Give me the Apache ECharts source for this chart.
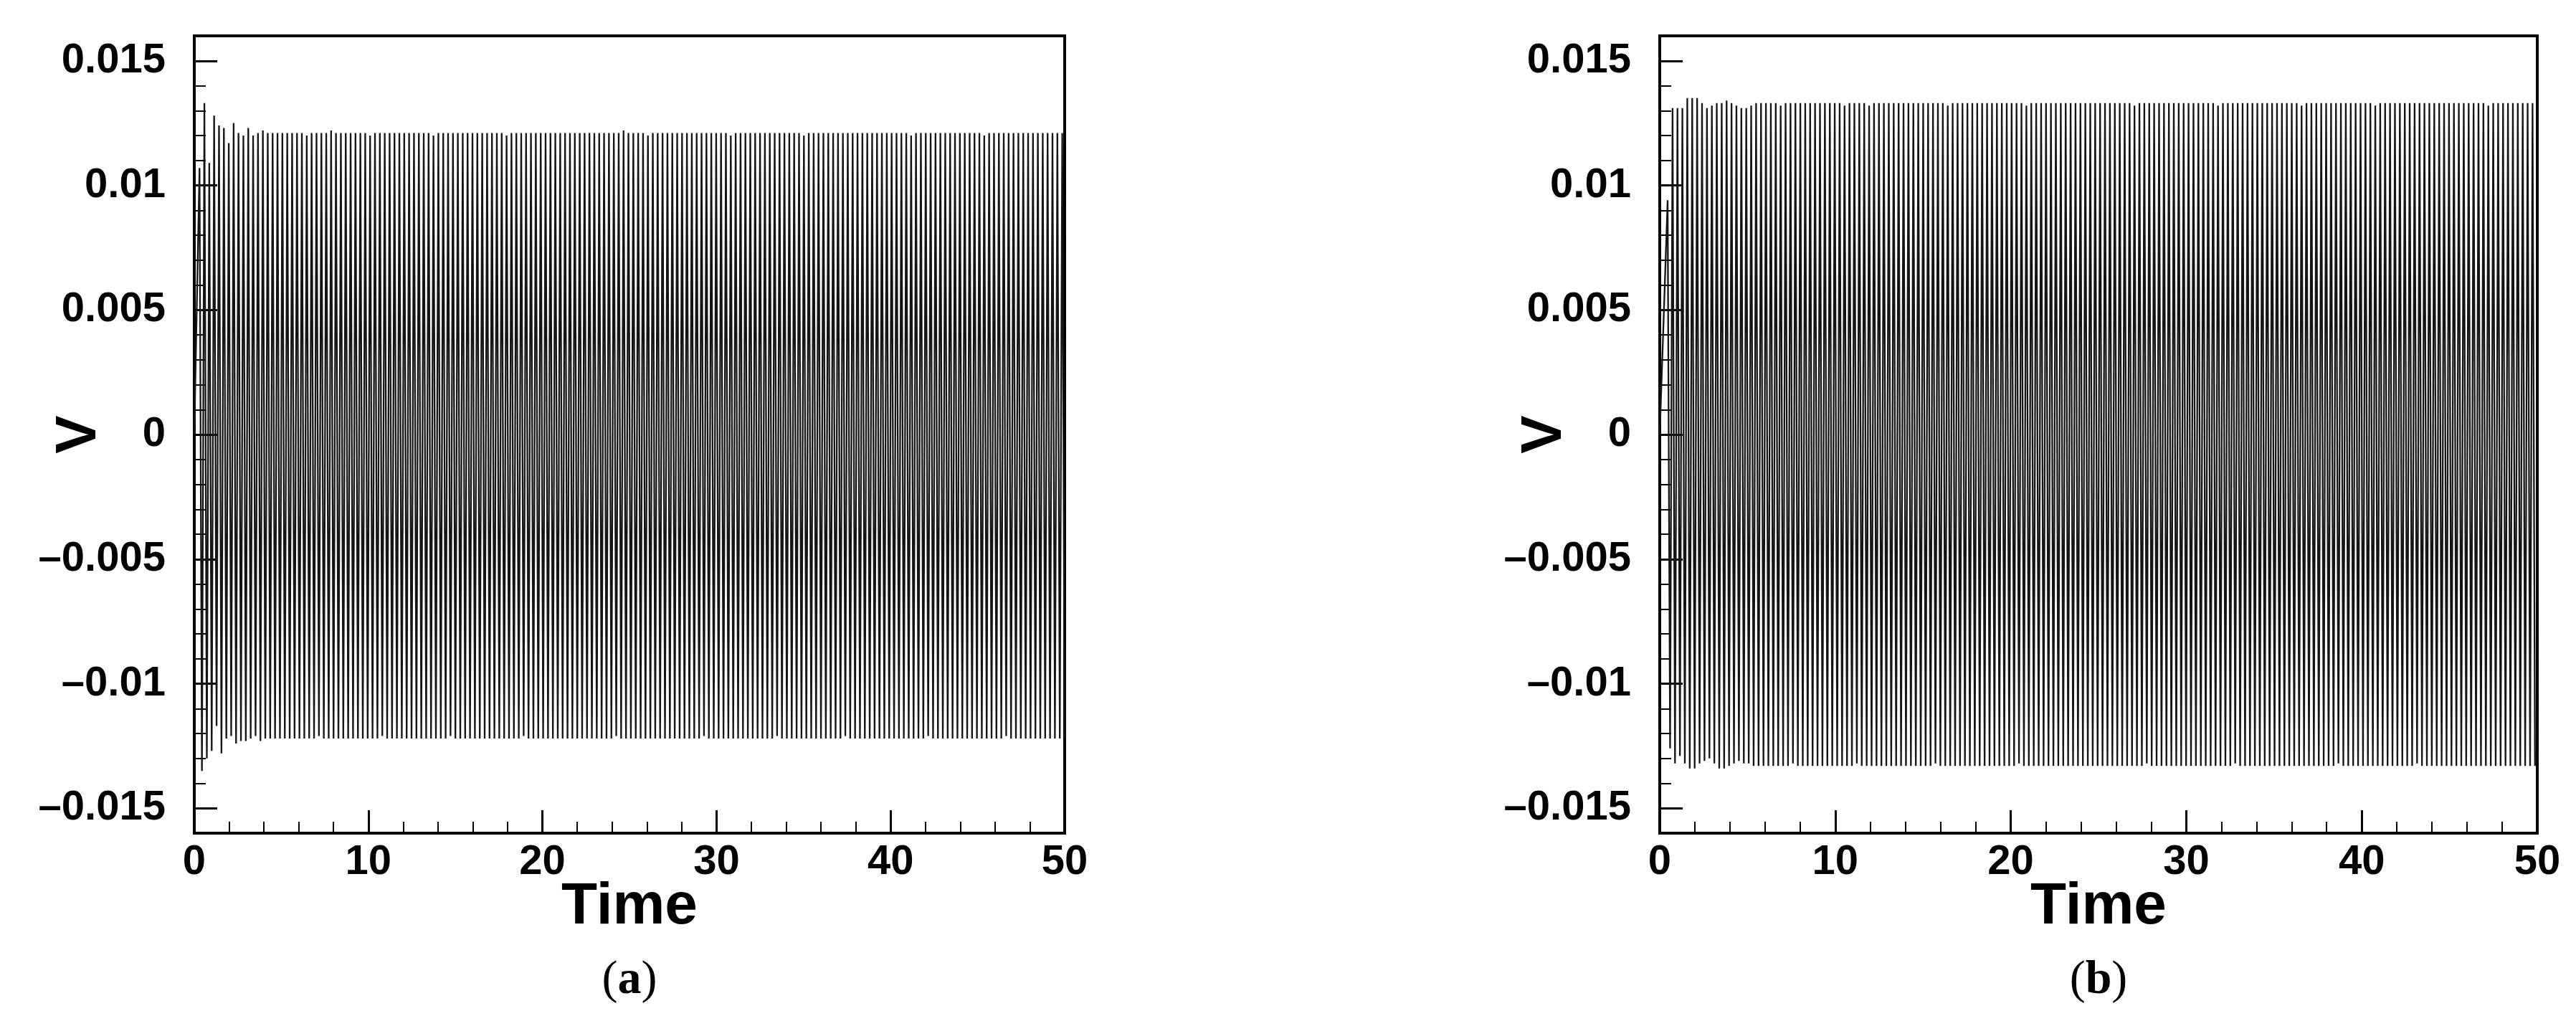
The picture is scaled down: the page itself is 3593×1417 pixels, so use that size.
<!DOCTYPE html>
<html>
<head>
<meta charset="utf-8">
<script src="https://cdn.jsdelivr.net/npm/echarts@6/dist/echarts.min.js"></script>
<style>
html,body{margin:0;padding:0;background:#fff;}
#chart{width:3593px;height:1417px;}
</style>
</head>
<body>
<div id="chart"></div>
<script>
// ---- data ----
// time of first maximum and half period (time between a maximum and the next minimum)
const firstTimeA = 0.30;
const halfPeriodA = 0.14;
const firstTimeB = 0.45;
const halfPeriodB = 0.14;

// panel (a): successive maxima / minima of V (one per cycle)
const peaksA = [
0.0107,0.0133,0.0109,0.0128,0.0124,0.0123,0.0117,0.0125,0.0121,0.0120,
0.0123,0.0120,0.0121,0.0122,0.0121,0.0121,0.0121,0.0121,0.0121,0.0121,
0.0121,0.0121,0.0120,0.0121,0.0121,0.0121,0.0121,0.0122,0.0121,0.0121,
0.0121,0.0121,0.0121,0.0121,0.0121,0.0120,0.0121,0.0121,0.0121,0.0121,
0.0121,0.0121,0.0121,0.0121,0.0121,0.0121,0.0121,0.0121,0.0120,0.0121,
0.0121,0.0121,0.0121,0.0121,0.0121,0.0121,0.0121,0.0121,0.0121,0.0121,
0.0121,0.0121,0.0121,0.0120,0.0121,0.0121,0.0121,0.0121,0.0121,0.0121,
0.0121,0.0121,0.0121,0.0121,0.0121,0.0121,0.0121,0.0121,0.0121,0.0121,
0.0121,0.0121,0.0121,0.0121,0.0121,0.0121,0.0121,0.0122,0.0121,0.0121,
0.0121,0.0121,0.0120,0.0121,0.0121,0.0121,0.0121,0.0121,0.0121,0.0121,
0.0121,0.0121,0.0121,0.0121,0.0121,0.0121,0.0121,0.0121,0.0121,0.0120,
0.0121,0.0121,0.0121,0.0121,0.0121,0.0121,0.0121,0.0121,0.0121,0.0121,
0.0121,0.0121,0.0121,0.0121,0.0120,0.0121,0.0121,0.0121,0.0121,0.0121,
0.0121,0.0121,0.0121,0.0121,0.0121,0.0121,0.0121,0.0121,0.0121,0.0121,
0.0121,0.0121,0.0121,0.0121,0.0121,0.0121,0.0120,0.0121,0.0121,0.0121,
0.0121,0.0121,0.0121,0.0121,0.0121,0.0121,0.0121,0.0121,0.0121,0.0121,
0.0121,0.0120,0.0121,0.0121,0.0121,0.0121,0.0121,0.0121,0.0121,0.0121,
0.0121,0.0121,0.0121,0.0121,0.0121,0.0121,0.0121,0.0121
];
const troughsA = [
-0.0135,-0.0130,-0.0127,-0.0117,-0.0128,-0.0122,-0.0121,-0.0124,-0.0123,-0.0123,
-0.0122,-0.0121,-0.0123,-0.0122,-0.0122,-0.0122,-0.0122,-0.0122,-0.0122,-0.0122,
-0.0122,-0.0122,-0.0122,-0.0122,-0.0121,-0.0122,-0.0122,-0.0122,-0.0122,-0.0122,
-0.0122,-0.0122,-0.0122,-0.0122,-0.0122,-0.0122,-0.0122,-0.0121,-0.0122,-0.0122,
-0.0122,-0.0122,-0.0122,-0.0122,-0.0122,-0.0122,-0.0122,-0.0122,-0.0122,-0.0122,
-0.0122,-0.0121,-0.0122,-0.0122,-0.0122,-0.0122,-0.0122,-0.0122,-0.0122,-0.0122,
-0.0122,-0.0122,-0.0122,-0.0122,-0.0122,-0.0122,-0.0121,-0.0122,-0.0122,-0.0122,
-0.0122,-0.0122,-0.0122,-0.0122,-0.0122,-0.0122,-0.0122,-0.0122,-0.0122,-0.0122,
-0.0122,-0.0122,-0.0122,-0.0122,-0.0122,-0.0121,-0.0122,-0.0122,-0.0122,-0.0122,
-0.0122,-0.0122,-0.0122,-0.0122,-0.0122,-0.0122,-0.0122,-0.0122,-0.0122,-0.0122,
-0.0122,-0.0122,-0.0122,-0.0121,-0.0122,-0.0122,-0.0122,-0.0122,-0.0122,-0.0122,
-0.0122,-0.0122,-0.0122,-0.0122,-0.0122,-0.0122,-0.0122,-0.0122,-0.0121,-0.0122,
-0.0122,-0.0122,-0.0122,-0.0122,-0.0122,-0.0122,-0.0122,-0.0122,-0.0122,-0.0122,
-0.0122,-0.0122,-0.0121,-0.0122,-0.0122,-0.0122,-0.0122,-0.0122,-0.0122,-0.0122,
-0.0122,-0.0122,-0.0122,-0.0122,-0.0122,-0.0122,-0.0122,-0.0122,-0.0122,-0.0121,
-0.0122,-0.0122,-0.0122,-0.0122,-0.0122,-0.0122,-0.0122,-0.0122,-0.0122,-0.0122,
-0.0122,-0.0122,-0.0122,-0.0122,-0.0122,-0.0121,-0.0122,-0.0122,-0.0122,-0.0122,
-0.0122,-0.0122,-0.0122,-0.0122,-0.0122,-0.0122,-0.0122,-0.0122
];

// panel (b): successive maxima / minima of V (one per cycle)
const peaksB = [
0.0094,0.0131,0.0131,0.0131,0.0135,0.0135,0.0135,0.0133,0.0131,0.0132,
0.0133,0.0133,0.0134,0.0133,0.0132,0.0131,0.0131,0.0132,0.0133,0.0133,
0.0133,0.0133,0.0133,0.0132,0.0133,0.0133,0.0133,0.0133,0.0133,0.0133,
0.0133,0.0133,0.0133,0.0133,0.0133,0.0133,0.0132,0.0133,0.0133,0.0133,
0.0133,0.0132,0.0133,0.0133,0.0133,0.0133,0.0133,0.0133,0.0133,0.0133,
0.0133,0.0133,0.0133,0.0133,0.0133,0.0133,0.0133,0.0132,0.0133,0.0133,
0.0133,0.0133,0.0133,0.0133,0.0133,0.0133,0.0133,0.0133,0.0133,0.0133,
0.0133,0.0133,0.0133,0.0132,0.0133,0.0133,0.0133,0.0133,0.0133,0.0133,
0.0133,0.0133,0.0133,0.0133,0.0133,0.0133,0.0133,0.0133,0.0133,0.0133,
0.0133,0.0133,0.0133,0.0133,0.0133,0.0132,0.0133,0.0133,0.0133,0.0133,
0.0133,0.0133,0.0133,0.0133,0.0133,0.0133,0.0133,0.0133,0.0133,0.0133,
0.0133,0.0133,0.0132,0.0133,0.0133,0.0133,0.0133,0.0133,0.0133,0.0133,
0.0133,0.0133,0.0133,0.0133,0.0133,0.0133,0.0133,0.0133,0.0133,0.0132,
0.0133,0.0133,0.0133,0.0133,0.0133,0.0133,0.0133,0.0133,0.0133,0.0133,
0.0133,0.0133,0.0133,0.0133,0.0132,0.0133,0.0133,0.0133,0.0133,0.0133,
0.0133,0.0133,0.0133,0.0133,0.0133,0.0133,0.0133,0.0133,0.0133,0.0133,
0.0133,0.0133,0.0133,0.0133,0.0133,0.0133,0.0133,0.0132,0.0133,0.0133,
0.0133,0.0133,0.0133,0.0133,0.0133,0.0133,0.0133
];
const troughsB = [
-0.0126,-0.0132,-0.0129,-0.0132,-0.0134,-0.0134,-0.0132,-0.0131,-0.0130,-0.0132,
-0.0134,-0.0134,-0.0133,-0.0132,-0.0131,-0.0132,-0.0132,-0.0133,-0.0133,-0.0133,
-0.0133,-0.0133,-0.0133,-0.0133,-0.0133,-0.0132,-0.0133,-0.0133,-0.0133,-0.0133,
-0.0133,-0.0133,-0.0133,-0.0133,-0.0133,-0.0133,-0.0133,-0.0133,-0.0132,-0.0133,
-0.0133,-0.0133,-0.0133,-0.0133,-0.0133,-0.0133,-0.0133,-0.0133,-0.0133,-0.0133,
-0.0133,-0.0133,-0.0133,-0.0133,-0.0132,-0.0133,-0.0133,-0.0133,-0.0133,-0.0133,
-0.0133,-0.0133,-0.0133,-0.0133,-0.0133,-0.0133,-0.0133,-0.0133,-0.0133,-0.0133,
-0.0133,-0.0132,-0.0133,-0.0133,-0.0133,-0.0133,-0.0133,-0.0133,-0.0133,-0.0133,
-0.0133,-0.0133,-0.0133,-0.0133,-0.0133,-0.0133,-0.0133,-0.0133,-0.0133,-0.0133,
-0.0133,-0.0133,-0.0133,-0.0133,-0.0133,-0.0133,-0.0133,-0.0132,-0.0133,-0.0133,
-0.0133,-0.0133,-0.0133,-0.0133,-0.0133,-0.0133,-0.0133,-0.0133,-0.0133,-0.0133,
-0.0133,-0.0133,-0.0133,-0.0133,-0.0133,-0.0132,-0.0133,-0.0133,-0.0133,-0.0133,
-0.0133,-0.0133,-0.0133,-0.0133,-0.0133,-0.0133,-0.0133,-0.0133,-0.0133,-0.0133,
-0.0133,-0.0133,-0.0133,-0.0133,-0.0133,-0.0133,-0.0132,-0.0133,-0.0133,-0.0133,
-0.0133,-0.0133,-0.0133,-0.0133,-0.0133,-0.0133,-0.0133,-0.0133,-0.0133,-0.0133,
-0.0133,-0.0133,-0.0132,-0.0133,-0.0133,-0.0133,-0.0133,-0.0133,-0.0133,-0.0133,
-0.0133,-0.0133,-0.0133,-0.0133,-0.0133,-0.0133,-0.0133,-0.0133,-0.0133,-0.0133,
-0.0133,-0.0133,-0.0133,-0.0133,-0.0133,-0.0133,-0.0133
];

// tick labels
const yTickValues = [-0.015, -0.01, -0.005, 0, 0.005, 0.01, 0.015];
const yTickLabels = ['\u20130.015', '\u20130.01', '\u20130.005', '0', '0.005', '0.01', '0.015'];
const xTickValues = [0, 10, 20, 30, 40, 50];
const xTickLabels = ['0', '10', '20', '30', '40', '50'];
const panelLabels = ['a', 'b'];

// ---- build ----
function buildPoints(first, half, peaks, troughs) {
  const pts = [[0, 0]];
  for (let k = 0; k < peaks.length; k++) {
    pts.push([first + (2 * k) * half, peaks[k]]);
    if (k < troughs.length) pts.push([first + (2 * k + 1) * half, troughs[k]]);
  }
  return pts;
}
const dataA = buildPoints(firstTimeA, halfPeriodA, peaksA, troughsA);
const dataB = buildPoints(firstTimeB, halfPeriodB, peaksB, troughsB);

const FONT = 'Liberation Sans, Arial, sans-serif';
const grids = [
  {left: 271, top: 50, width: 1214, height: 1112},
  {left: 2315, top: 50, width: 1224, height: 1112}
];

const xAxes = [], yAxes = [], series = [], graphics = [];
grids.forEach((g, i) => {
  xAxes.push({
    gridIndex: i, type: 'value', min: 0, max: 50, interval: 2, position: 'bottom',
    axisLine: {show: true, onZero: false, lineStyle: {color: '#000', width: 4}},
    axisTick: {show: true, inside: true, length: 16, lineStyle: {color: '#000', width: 2}},
    axisLabel: {show: false}, splitLine: {show: false}
  });
  xAxes.push({
    gridIndex: i, type: 'value', min: 0, max: 50, interval: 10, position: 'bottom',
    axisLine: {show: false, onZero: false},
    axisTick: {show: true, inside: true, length: 32, lineStyle: {color: '#000', width: 3}},
    axisLabel: {show: true, margin: 12, color: '#000', fontSize: 58, fontWeight: 'bold', fontFamily: FONT,
      showMinLabel: true, showMaxLabel: true,
      formatter: v => { const j = xTickValues.indexOf(v); return j >= 0 ? xTickLabels[j] : ''; }},
    splitLine: {show: false},
    name: 'Time', nameLocation: 'middle', nameGap: 62, nameMoveOverlap: false,
    nameTextStyle: {color: '#000', fontSize: 82, fontWeight: 'bold', fontFamily: FONT}
  });
  yAxes.push({
    gridIndex: i, type: 'value', min: -0.016, max: 0.016, interval: 0.001, position: 'left',
    axisLine: {show: true, onZero: false, lineStyle: {color: '#000', width: 4}},
    axisTick: {show: true, inside: true, length: 16, lineStyle: {color: '#000', width: 2}},
    axisLabel: {show: false}, splitLine: {show: false}
  });
  yAxes.push({
    gridIndex: i, type: 'value', min: -0.016, max: 0.016, position: 'left',
    axisLine: {show: false, onZero: false},
    axisTick: {show: true, inside: true, length: 32, lineStyle: {color: '#000', width: 3}, customValues: yTickValues},
    axisLabel: {show: true, margin: 40, color: '#000', fontSize: 58, fontWeight: 'bold', fontFamily: FONT,
      customValues: yTickValues,
      formatter: v => { let j = -1; yTickValues.forEach((t, q) => { if (Math.abs(t - v) < 1e-9) j = q; }); return j >= 0 ? yTickLabels[j] : ''; }},
    splitLine: {show: false},
    name: 'V', nameLocation: 'middle', nameGap: 120, nameRotate: 90, nameMoveOverlap: false,
    nameTextStyle: {color: '#000', fontSize: 80, fontWeight: 'bold', fontFamily: FONT}
  });
  series.push({
    type: 'line', xAxisIndex: 2 * i, yAxisIndex: 2 * i,
    data: i === 0 ? dataA : dataB,
    showSymbol: false, symbol: 'none', clip: true, sampling: null,
    lineStyle: {color: '#151515', width: 2.3}
  });
  graphics.push({
    type: 'text', x: g.left + g.width / 2, y: 1368,
    style: {
      text: '{p|(}{b|' + panelLabels[i] + '}{p|)}',
      align: 'center', verticalAlign: 'middle',
      rich: {
        p: {fontSize: 66, fontFamily: 'Liberation Serif, serif', fill: '#000', fontWeight: 'normal'},
        b: {fontSize: 66, fontFamily: 'Liberation Serif, serif', fill: '#000', fontWeight: 'bold'}
      }
    }
  });
});

const chart = echarts.init(document.getElementById('chart'), null, {renderer: 'canvas'});
chart.setOption({
  backgroundColor: '#fff',
  animation: false,
  grid: grids.map(g => Object.assign({show: true, borderColor: '#000', borderWidth: 4, backgroundColor: 'transparent'}, g)),
  xAxis: xAxes,
  yAxis: yAxes,
  series: series,
  graphic: graphics
});
</script>
</body>
</html>
